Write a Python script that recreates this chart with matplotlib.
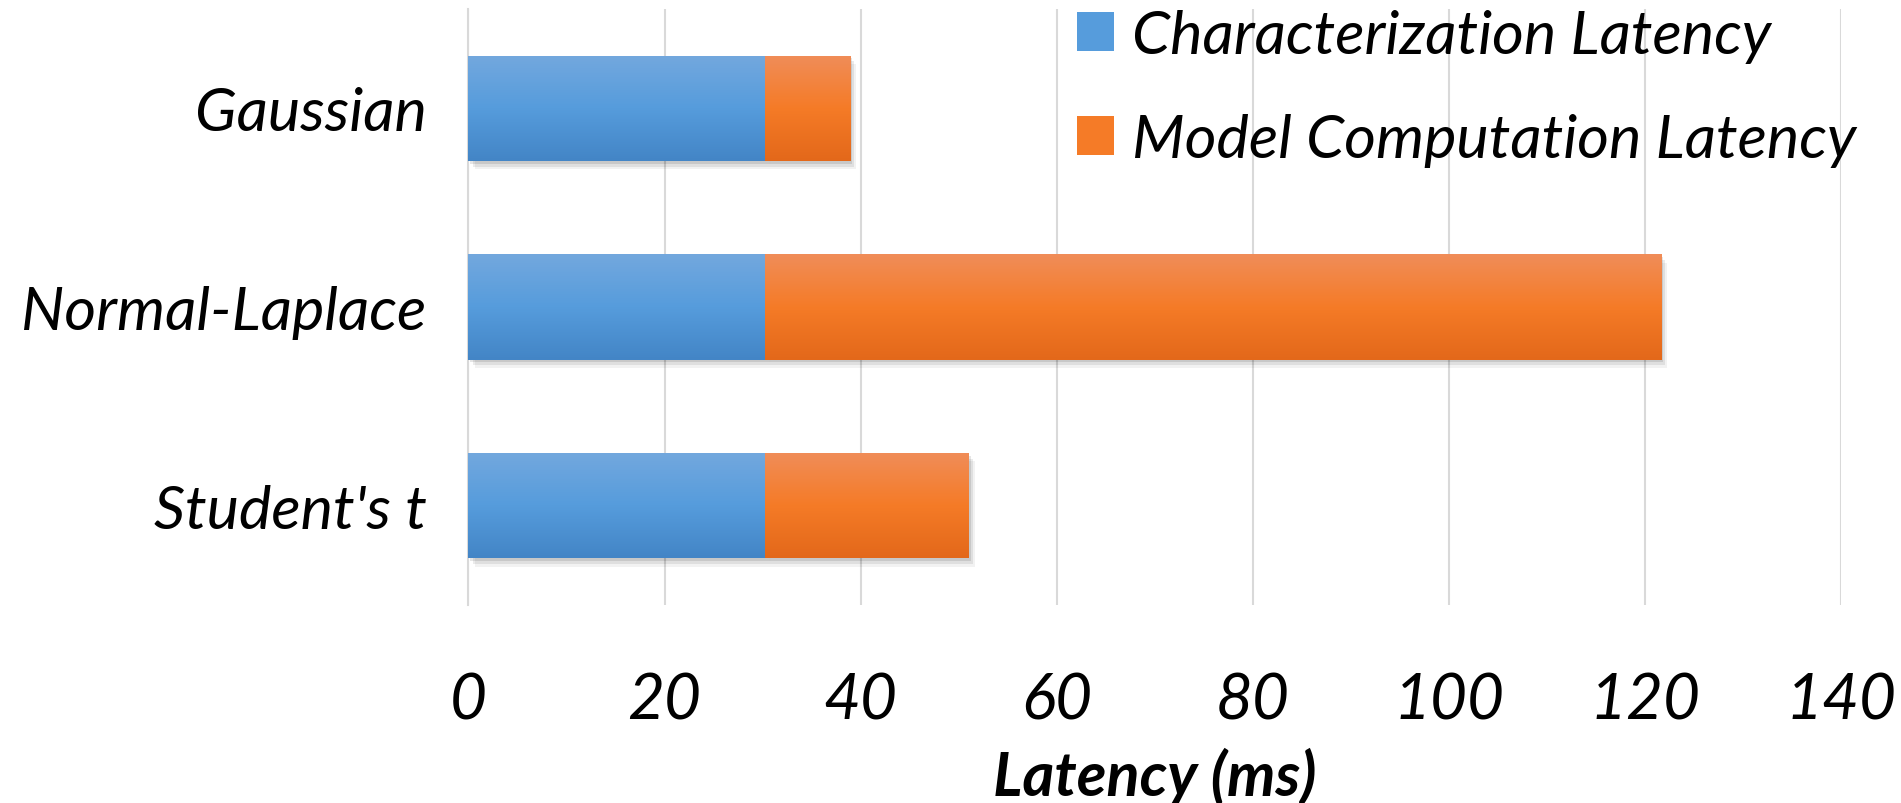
import numpy as np
import matplotlib
matplotlib.use("Agg")
import matplotlib.pyplot as plt
import matplotlib.patheffects as pe
from matplotlib.colors import LinearSegmentedColormap
from matplotlib.patches import Patch

# ---------------------------------------------------------------------
# Data
# ---------------------------------------------------------------------
models = ["Gaussian", "Normal-Laplace", "Student's t"]
characterization_ms = [30.2, 30.2, 30.2]
computation_ms = [8.7, 91.4, 20.8]
series_names = ["Characterization Latency", "Model Computation Latency"]
x_ticks = [0, 20, 40, 60, 80, 100, 120, 140]

# top / middle / bottom shades of each bar
blue_shades = ["#73a8de", "#569cdc", "#4385c6"]
orange_shades = ["#f08d59", "#f57b27", "#e3681a"]

plt.rcParams["font.family"] = ["Lato", "DejaVu Sans"]
plt.rcParams["font.style"] = "italic"

GRID = "#d9d9d9"

# ---------------------------------------------------------------------
# Plot
# ---------------------------------------------------------------------
fig = plt.figure(figsize=(19.01, 8.04), dpi=100)
ax = fig.add_axes([0.2464, 0.2463, 0.9685 - 0.2464, 0.9876 - 0.2463])

y = np.arange(len(models))
bar_h = 0.53

shadow = [
    pe.SimplePatchShadow(offset=(1.5, -2.0), shadow_rgbFace="#000000", alpha=0.10),
    pe.SimplePatchShadow(offset=(3.0, -4.0), shadow_rgbFace="#000000", alpha=0.08),
    pe.SimplePatchShadow(offset=(4.5, -6.0), shadow_rgbFace="#000000", alpha=0.05),
    pe.Normal(),
]

b1 = ax.barh(y, characterization_ms, height=bar_h, color=blue_shades[1],
             linewidth=0, zorder=2)
b2 = ax.barh(y, computation_ms, left=characterization_ms, height=bar_h,
             color=orange_shades[1], linewidth=0, zorder=2)

for bars in (b1, b2):
    for bar in bars:
        bar.set_path_effects(shadow)


def gradient_fill(bars, shades):
    cmap = LinearSegmentedColormap.from_list("g", shades)
    grad = np.linspace(0, 1, 256).reshape(-1, 1)
    for bar in bars:
        x0, y0 = bar.get_x(), bar.get_y()
        w, h = bar.get_width(), bar.get_height()
        im = ax.imshow(grad, cmap=cmap, aspect="auto", origin="upper",
                       extent=(x0, x0 + w, y0 + h, y0), zorder=3,
                       interpolation="bilinear")
        im.set_clip_path(bar)


gradient_fill(b1, blue_shades)
gradient_fill(b2, orange_shades)

ax.set_xlim(0, 140)
ax.set_ylim(2.5, -0.5)
ax.set_xticks(x_ticks)
ax.set_xticklabels([str(t) for t in x_ticks], fontsize=46)
ax.set_yticks(y)
ax.set_yticklabels(models, fontsize=44)
ax.tick_params(axis="x", length=0, pad=48)
ax.tick_params(axis="y", length=0, pad=30)

ax.grid(axis="x", color=GRID, linewidth=1.5)
ax.set_axisbelow(True)
for side in ("top", "right", "bottom"):
    ax.spines[side].set_visible(False)
ax.spines["left"].set_color(GRID)
ax.spines["left"].set_linewidth(1.5)

# axis title sits close to the bottom edge
fig.text(0.5 * (0.2464 + 0.9685), 8 / 804, "Latency (ms)", fontsize=44,
         fontweight="bold", ha="center", va="baseline")

handles = [Patch(facecolor=blue_shades[1]), Patch(facecolor=orange_shades[1])]
ax.legend(handles, series_names, loc="upper left", frameon=False,
          fontsize=44, bbox_to_anchor=(1077 / 1901, 1 - 10 / 804),
          bbox_transform=fig.transFigure, borderpad=0, borderaxespad=0,
          handlelength=0.6, handleheight=0.6, handletextpad=0.3,
          labelspacing=0.82)

plt.savefig("out.png", dpi=100)
